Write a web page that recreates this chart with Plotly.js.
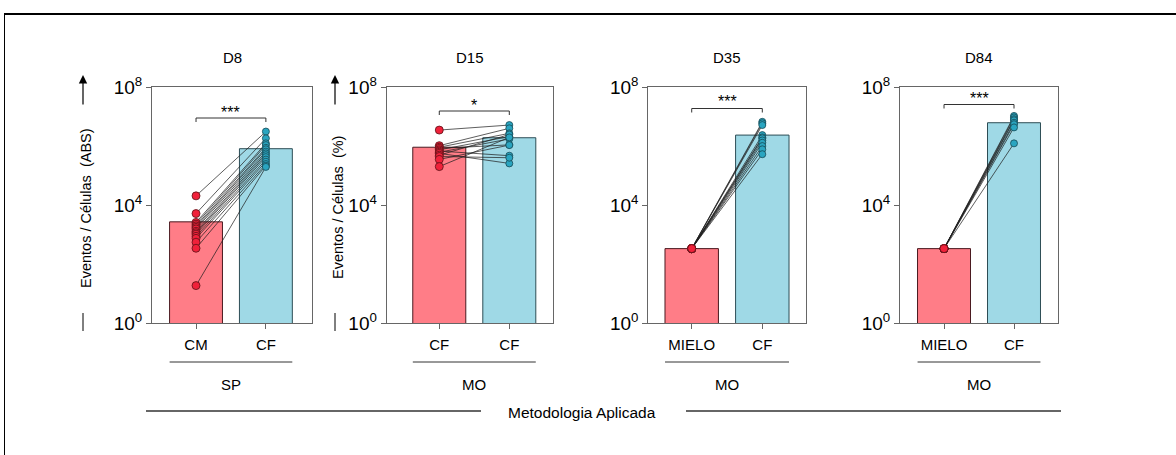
<!DOCTYPE html>
<html>
<head>
<meta charset="utf-8">
<script src="https://cdn.plot.ly/plotly-3.0.1.min.js"></script>
<style>
html,body{margin:0;padding:0;background:#fff;}
#chart{width:1176px;height:455px;}
</style>
</head>
<body>
<div id="chart"></div>
<script>
// ---------- data ----------
const panelTitles = ['D8', 'D15', 'D35', 'D84'];
const groupLabels = [['CM', 'CF'], ['CF', 'CF'], ['MIELO', 'CF'], ['MIELO', 'CF']];
const tissueLabels = ['SP', 'MO', 'MO', 'MO'];
const yTitles = ['Eventos / Células  (ABS)', 'Eventos / Células  (%)', '', ''];
const significance = ['***', '*', '***', '***'];
const bottomTitle = 'Metodologia Aplicada';

// paired subject values (left group, right group)
const d8Left  = [20900, 5250, 2630, 2290, 2000, 1780, 1580, 1320, 1175, 1050, 890, 760, 560, 350, 19];
const d8Right = [3160000, 1860000, 1260000, 1100000, 890000, 790000, 660000, 575000, 500000, 430000, 355000, 300000, 250000, 220000, 200000];
const d15Left  = [3550000, 1050000, 930000, 850000, 760000, 690000, 630000, 575000, 500000, 450000, 360000, 205000];
const d15Right = [5250000, 4070000, 2750000, 1120000, 2140000, 480000, 1780000, 263000, 2510000, 410000, 1100000, 2000000];
const d35Left  = [340, 340, 340, 340, 340, 340, 340, 340, 340, 340, 340];
const d35Right = [6760000, 6030000, 5250000, 2400000, 2000000, 1860000, 1580000, 1320000, 1020000, 790000, 540000];
const d84Left  = [340, 340, 340, 340, 340, 340, 340, 340];
const d84Right = [10700000, 9550000, 8300000, 7600000, 6300000, 5600000, 4370000, 1260000];

// bar heights (group summary)
const d8Bars  = [2750, 830000];
const d15Bars = [930000, 1950000];
const d35Bars = [340, 2400000];
const d84Bars = [340, 6300000];

const yTickVals = [1, 1e4, 1e8];
const yTickText = ['10<sup>0</sup>', '10<sup>4</sup>', '10<sup>8</sup>'];

// ---------- styling / geometry ----------
const W = 1176, H = 455;
const FONT = 'Liberation Sans, Arial, Helvetica, sans-serif';
const RED_BAR = '#FF7D87', BLUE_BAR = '#9FD9E6';
const RED_DOT = '#F0213A', BLUE_DOT = '#2AA5C0';
const AX = '#666666';
const px = v => v / W;
const py = v => 1 - v / H;

const panels = [
  {left: d8Left,  right: d8Right,  bars: d8Bars,  dom: [152, 312],   rng: [-0.63, 1.66]},
  {left: d15Left, right: d15Right, bars: d15Bars, dom: [386.7, 553], rng: [-0.751, 1.624]},
  {left: d35Left, right: d35Right, bars: d35Bars, dom: [648.3, 806], rng: [-0.615, 1.619]},
  {left: d84Left, right: d84Right, bars: d84Bars, dom: [900, 1058.3], rng: [-0.629, 1.633]}
];
const yDom = [py(323.3), py(87.3)];
const bracketY = [118, 111, 108.5, 104.5];
const starY = [111, 104, 101, 97];
const titleX = [232, 470, 727, 979];

const traces = [];
const layout = {
  width: W, height: H,
  margin: {l: 0, r: 0, t: 0, b: 0},
  paper_bgcolor: '#fff', plot_bgcolor: '#fff',
  showlegend: false,
  font: {family: FONT, size: 15, color: '#000'},
  shapes: [], annotations: []
};

panels.forEach((p, i) => {
  const n = i === 0 ? '' : String(i + 1);
  const xa = 'x' + n, ya = 'y' + n;
  // bars
  traces.push({
    type: 'bar', x: [0, 1], y: p.bars, width: 0.757,
    xaxis: xa, yaxis: ya,
    marker: {color: [RED_BAR, BLUE_BAR], line: {color: ['#4a1a20', '#2d4d55'], width: 1}},
    hoverinfo: 'skip'
  });
  // connecting lines
  const lx = [], ly = [];
  p.left.forEach((v, k) => { lx.push(0, 1, null); ly.push(v, p.right[k], null); });
  traces.push({
    type: 'scatter', mode: 'lines', x: lx, y: ly, xaxis: xa, yaxis: ya,
    line: {color: 'rgba(30,30,30,0.8)', width: 0.9}, hoverinfo: 'skip', connectgaps: false
  });
  // markers
  traces.push({
    type: 'scatter', mode: 'markers', x: p.left.map(() => 0), y: p.left, xaxis: xa, yaxis: ya,
    marker: {color: RED_DOT, size: 8, line: {color: '#5a1015', width: 0.8}}, hoverinfo: 'skip'
  });
  traces.push({
    type: 'scatter', mode: 'markers', x: p.right.map(() => 1), y: p.right, xaxis: xa, yaxis: ya,
    marker: {color: BLUE_DOT, size: 7, line: {color: '#174a55', width: 0.8}}, hoverinfo: 'skip'
  });

  layout['xaxis' + n] = {
    domain: [px(p.dom[0]), px(p.dom[1])], range: p.rng, anchor: ya,
    tickmode: 'array', tickvals: [0, 1], ticktext: groupLabels[i],
    ticks: 'outside', ticklen: 5, tickcolor: AX, tickwidth: 1,
    showline: true, linecolor: AX, linewidth: 1, mirror: true,
    showgrid: false, zeroline: false, fixedrange: true,
    tickfont: {family: FONT, size: 15, color: '#000'}, ticklabelstandoff: 3
  };
  layout['yaxis' + n] = {
    domain: yDom, type: 'log', range: [0, 8], anchor: xa,
    tickmode: 'array', tickvals: yTickVals, ticktext: yTickText,
    ticks: 'outside', ticklen: 5, tickcolor: AX, tickwidth: 1,
    showline: true, linecolor: AX, linewidth: 1, mirror: true,
    showgrid: false, zeroline: false, fixedrange: true,
    tickfont: {family: FONT, size: 19, color: '#000'}, ticklabelstandoff: 0
  };

  // panel title
  layout.annotations.push({
    xref: 'paper', yref: 'paper', x: px(titleX[i]), y: py(58),
    text: panelTitles[i], showarrow: false, font: {size: 15}, xanchor: 'center', yanchor: 'middle'
  });
  // significance bracket
  const b0 = bracketY[i];
  layout.shapes.push({
    type: 'path', xref: xa, yref: 'paper',
    path: `M0,${py(b0 + 4)} L0,${py(b0)} L1,${py(b0)} L1,${py(b0 + 4)}`,
    line: {color: '#333', width: 1}
  });
  layout.annotations.push({
    xref: xa, yref: 'paper', x: 0.5, y: py(starY[i] + 1),
    text: significance[i], showarrow: false, font: {size: 16}, xanchor: 'center', yanchor: 'middle'
  });
  // tissue group line + label (spans bar edges)
  layout.shapes.push({
    type: 'line', xref: xa, yref: 'paper', x0: -0.378, x1: 1.378, y0: py(362), y1: py(362),
    line: {color: '#333', width: 1}
  });
  layout.annotations.push({
    xref: xa, yref: 'paper', x: 0.5, y: py(384),
    text: tissueLabels[i], showarrow: false, font: {size: 15}, xanchor: 'center', yanchor: 'middle'
  });
});

// y-axis titles with arrows
[[86, 0], [338, 1]].forEach(([xp, i]) => {
  layout.annotations.push({
    xref: 'paper', yref: 'paper', x: px(xp), y: py(208),
    text: yTitles[i], showarrow: false, textangle: -90, font: {size: 14.5},
    xanchor: 'center', yanchor: 'middle'
  });
  const ax = xp - 3;
  layout.annotations.push({
    xref: 'paper', yref: 'paper', x: px(ax), y: py(75),
    ax: 0, ay: 31, text: '', showarrow: true, arrowhead: 2, arrowsize: 1.4, arrowwidth: 1.2, arrowcolor: '#000'
  });
  layout.shapes.push({
    type: 'line', xref: 'paper', yref: 'paper', x0: px(ax), x1: px(ax), y0: py(313), y1: py(331),
    line: {color: '#000', width: 1}
  });
});

// bottom "Metodologia Aplicada" rule
layout.shapes.push({type: 'line', xref: 'paper', yref: 'paper', x0: px(146), x1: px(481), y0: py(411), y1: py(411), line: {color: '#666', width: 2}});
layout.shapes.push({type: 'line', xref: 'paper', yref: 'paper', x0: px(686), x1: px(1061), y0: py(411), y1: py(411), line: {color: '#666', width: 2}});
layout.annotations.push({
  xref: 'paper', yref: 'paper', x: px(582), y: py(412), text: bottomTitle, showarrow: false,
  font: {size: 15.5}, xanchor: 'center', yanchor: 'middle'
});

// outer frame (top and left edges visible)
layout.shapes.push({type: 'line', xref: 'paper', yref: 'paper', x0: px(4), x1: 1, y0: py(14), y1: py(14), line: {color: '#000', width: 2}});
layout.shapes.push({type: 'line', xref: 'paper', yref: 'paper', x0: px(4.5), x1: px(4.5), y0: 0, y1: py(14), line: {color: '#000', width: 1}});

Plotly.newPlot('chart', traces, layout, {displayModeBar: false, staticPlot: true});
</script>
</body>
</html>
